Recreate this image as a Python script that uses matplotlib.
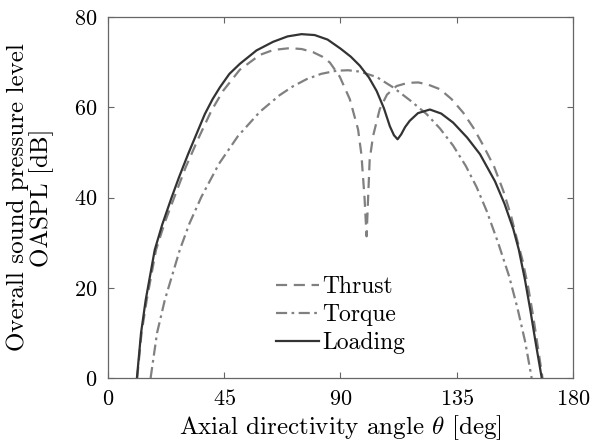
import matplotlib
matplotlib.use("Agg")
import matplotlib.pyplot as plt

# Directivity data (angle in deg, OASPL in dB)
thrust_deg = [11.3, 13.0, 15.0, 18.6, 22.0, 25.3, 30.0, 34.9, 40.0, 44.5, 51.0, 58.8, 64.0,
              70.4, 75.0, 79.4, 83.0, 85.9, 89.7, 93.6, 96.8, 98.1, 99.3, 100.1, 100.7,
              101.3, 102.6, 105.2, 108.0, 111.7, 116.0, 120.1, 124.0, 128.5, 133.0, 137.5,
              141.5, 145.2, 149.5, 153.0, 156.0, 158.2, 160.5, 162.7, 164.5, 166.5, 168.2]
thrust_db = [0.0, 10.0, 17.3, 28.4, 34.5, 39.5, 46.6, 53.0, 59.2, 63.6, 68.3, 71.6, 72.7,
             73.1, 72.9, 72.2, 71.2, 69.9, 66.8, 61.8, 55.1, 49.5, 40.0, 31.4, 40.0,
             48.4, 53.6, 59.6, 62.8, 64.7, 65.4, 65.5, 65.0, 64.0, 61.8, 58.8,
             55.4, 51.6, 46.8, 41.5, 36.0, 31.0, 26.0, 20.0, 14.0, 6.5, 0.0]

torque_deg = [16.5, 19.0, 22.0, 27.8, 31.5, 36.2, 43.0, 50.3, 58.8, 66.5, 71.5, 76.8, 82.5,
              88.5, 93.0, 97.5, 104.0, 110.4, 117.0, 123.3, 128.5, 133.6, 138.5,
              142.7, 146.6, 151.0, 155.3, 158.5, 161.5, 164.0]
torque_db = [0.0, 10.0, 17.3, 28.4, 34.2, 40.2, 47.5, 53.6, 59.0, 62.7, 64.6, 66.2, 67.4,
             68.1, 68.2, 67.9, 66.7, 64.4, 61.5, 58.5, 55.3, 51.5, 47.0,
             42.3, 37.0, 30.0, 22.5, 15.5, 8.0, 0.0]

loading_deg = [11.2, 12.8, 14.6, 18.1, 21.0, 24.5, 27.5, 31.0, 34.5, 37.5, 40.5, 43.3, 47.0,
               51.0, 57.5, 63.9, 69.5, 74.9, 80.0, 85.0, 90.0, 94.0, 97.5, 101.0, 104.0,
               106.8, 109.1, 110.7, 112.1, 113.5, 115.0, 116.8, 120.0, 124.6, 129.0, 133.6,
               139.0, 144.0, 149.8, 153.5, 156.9, 159.0, 161.4, 163.5, 165.5, 167.9]
loading_db = [0.0, 10.0, 17.3, 28.4, 34.0, 39.8, 44.5, 49.6, 54.4, 58.5, 61.8, 64.4, 67.4,
              69.6, 72.6, 74.5, 75.7, 76.2, 76.0, 75.0, 73.0, 71.2, 69.2, 66.6, 63.6,
              59.8, 55.8, 53.8, 52.9, 54.0, 55.6, 57.0, 58.7, 59.5, 58.6, 56.6,
              53.3, 49.6, 43.6, 38.6, 33.0, 28.5, 21.8, 15.0, 8.0, 0.0]

x_ticks = [0, 45, 90, 135, 180]
y_ticks = [0, 20, 40, 60, 80]

plt.rcParams['font.family'] = ['cmr10', 'DejaVu Serif']
plt.rcParams['mathtext.fontset'] = 'cm'
plt.rcParams['axes.formatter.use_mathtext'] = True

fig = plt.figure(figsize=(5.92, 4.44), dpi=100)
ax = fig.add_axes([0.1824, 0.1486, 0.7855, 0.8131])

gris = '#808080'
fonce = '#333333'

ax.plot(thrust_deg, thrust_db, color=gris, linewidth=1.6, dashes=(5, 3), label='Thrust')
ax.plot(torque_deg, torque_db, color=gris, linewidth=1.6, dashes=(5, 2, 1.2, 2), label='Torque')
ax.plot(loading_deg, loading_db, color=fonce, linewidth=1.6, label='Loading')

ax.set_xlim(0, 180)
ax.set_ylim(0, 80)
ax.set_xticks(x_ticks)
ax.set_yticks(y_ticks)

ax.tick_params(direction='in', top=True, right=True, length=4, width=0.8,
               color='#666666', labelsize=16, labelcolor='black', pad=8)
for spine in ax.spines.values():
    spine.set_color('#666666')
    spine.set_linewidth(0.9)

ax.set_xlabel(r'Axial directivity angle $\theta$ [deg]', fontsize=18, labelpad=3)
ax.set_ylabel('Overall sound pressure level\nOASPL [dB]', fontsize=18, labelpad=14,
              linespacing=1.0)

leg = ax.legend(loc='lower center', bbox_to_anchor=(0.5, 0.0), frameon=False,
                fontsize=17, handlelength=1.8, handletextpad=0.15, labelspacing=0.25,
                borderaxespad=0.6)

plt.savefig('out.png', dpi=100, facecolor='white')
plt.close()
